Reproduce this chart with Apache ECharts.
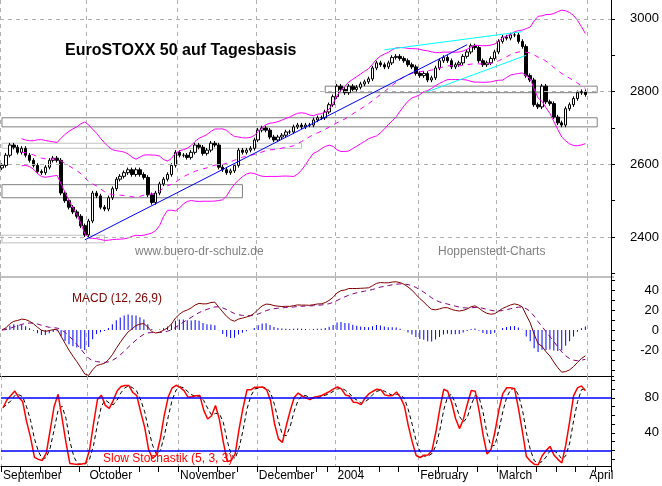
<!DOCTYPE html>
<html>
<head>
<meta charset="utf-8">
<script src="https://cdn.jsdelivr.net/npm/echarts@6/dist/echarts.min.js"></script>
<style>html,body{margin:0;padding:0;background:#fff}#chart{width:662px;height:486px}</style>
</head>
<body>
<div id="chart"></div>
<script>
// daily closes, 1 Sep 2003 .. 31 Mar 2004
var closes = [
    2597, 2625, 2653, 2647, 2633, 2644, 2625, 2611, 2597, 2580, 2577, 2592, 2611, 2617, 2611, 2521, 2500, 2482, 2469, 2457, 2431, 2406,
    2444, 2521, 2513, 2482, 2477, 2508, 2533, 2559, 2567, 2577, 2585, 2572, 2585, 2572, 2564, 2516, 2495, 2521, 2546, 2559, 2572, 2597,
    2633, 2625, 2625, 2619, 2633, 2653, 2647, 2630, 2639, 2658, 2653, 2592, 2585, 2577, 2582, 2597, 2639, 2633, 2639, 2644,
    2667, 2694, 2700, 2694, 2675, 2667, 2675, 2680, 2689, 2689, 2703, 2708, 2703, 2708, 2708, 2722, 2728, 2728, 2744, 2764,
    2786, 2815, 2806, 2797, 2815, 2806, 2812, 2821, 2827, 2835, 2865, 2879, 2874, 2868, 2879, 2894, 2897, 2891, 2885, 2874, 2868,
    2850, 2844, 2850, 2832, 2838, 2865, 2885, 2894, 2885, 2868, 2874, 2879, 2897, 2909, 2926, 2921, 2885, 2874, 2879, 2891,
    2909, 2938, 2950, 2947, 2956, 2956, 2938, 2924, 2844, 2832, 2764, 2758, 2815, 2772, 2767, 2730, 2714, 2708, 2753, 2764, 2781, 2797, 2800, 2792
];
var firstOpen = 2590;
var monthNames = ['2004', 'February', 'March', 'April', '', '', '', '', 'September', 'October', 'November', 'December'];
var priceTicks = [2300, 2400, 2500, 2600, 2700, 2800, 2900, 3000];
var priceLabels = [2400, 2600, 2800, 3000];
var macdTicks = [-40, -30, -20, -10, 0, 10, 20, 30, 40, 50];
var macdLabels = [-20, 0, 20, 40];
var stochTicks = [10, 20, 30, 40, 50, 60, 70, 80, 90, 100];
var stochLabels = [40, 80];
// support zones [startIndex, endIndex, top, bottom, colour]
var zones = [
    [0, 151, 2728, 2703, '#808080'],
    [82, 151, 2815, 2797, '#808080'],
    [0, 76, 2658, 2644, '#c0c0c0'],
    [0, 61, 2544, 2508, '#808080'],
    [0, 26, 2405, 2384, '#c0c0c0']
];
// trend lines [i0, p0, i1, p1, colour]
var trends = [
    [21, 2392, 118, 2929, '#0000ff'],
    [97, 2915, 132, 2965, '#00ffff'],
    [108, 2800, 133, 2900, '#00ffff']
];

// trading days
var holidays = ['2003-12-25', '2003-12-26', '2003-12-31', '2004-01-01'];
var days = [];
var d = new Date(Date.UTC(2003, 8, 1));
while (days.length < 155) {
    var wd = d.getUTCDay();
    var s = d.toISOString().slice(0, 10);
    if (wd > 0 && wd < 6 && holidays.indexOf(s) < 0) days.push(s);
    d.setUTCDate(d.getUTCDate() + 1);
}
function monthStart(i) { return i === 0 || days[i].slice(5, 7) !== days[i - 1].slice(5, 7); }
function monday(i) { return i === 0 || new Date(days[i]).getUTCDay() < new Date(days[i - 1]).getUTCDay(); }

// candles: open = previous close
var ohlc = [], highs = [], lows = [];
for (var i = 0; i < closes.length; i++) {
    var o = i ? closes[i - 1] : firstOpen, c = closes[i];
    var h = Math.max(o, c) + 6, l = Math.min(o, c) - 6;
    highs.push(h); lows.push(l);
    ohlc.push([o, c, l, h]);
}

// bollinger 20/2
var bbMid = [], bbUp = [], bbLo = [];
for (i = 0; i < closes.length; i++) {
    var st = Math.max(0, i - 19), n = i - st + 1, sum = 0, sq = 0;
    for (var j = st; j <= i; j++) sum += closes[j];
    var m = sum / n;
    for (j = st; j <= i; j++) sq += (closes[j] - m) * (closes[j] - m);
    var sd = Math.sqrt(sq / n);
    if (n < 6) { bbMid.push('-'); bbUp.push('-'); bbLo.push('-'); continue; }
    bbMid.push(+m.toFixed(1)); bbUp.push(+(m + 2 * sd).toFixed(1)); bbLo.push(+(m - 2 * sd).toFixed(1));
}

// MACD 12/26/9
function ema(arr, p) {
    var k = 2 / (p + 1), out = [arr[0]];
    for (var q = 1; q < arr.length; q++) out.push(arr[q] * k + out[q - 1] * (1 - k));
    return out;
}
var e12 = ema(closes, 12), e26 = ema(closes, 26);
var macd = e12.map(function (v, q) { return v - e26[q]; });
var signal = ema(macd, 9);
var hist = macd.map(function (v, q) { return +(v - signal[q]).toFixed(1); });
macd = macd.map(function (v) { return +v.toFixed(1); });
signal = signal.map(function (v) { return +v.toFixed(1); });

// slow stochastic 5/3/3
var rawK = [];
for (i = 0; i < closes.length; i++) {
    var a = Math.max(0, i - 4), hh = -1e9, ll = 1e9;
    for (j = a; j <= i; j++) { hh = Math.max(hh, highs[j]); ll = Math.min(ll, lows[j]); }
    rawK.push(hh > ll ? (closes[i] - ll) / (hh - ll) * 100 : 50);
}
function sma(arr, p) {
    return arr.map(function (v, q) {
        var b = Math.max(0, q - p + 1), t = 0;
        for (var r = b; r <= q; r++) t += arr[r];
        return +(t / (q - b + 1)).toFixed(1);
    });
}
var slowK = sma(rawK, 3), slowD = sma(slowK, 3);

var chart = echarts.init(document.getElementById('chart'));
var font = 'Liberation Sans, Arial, sans-serif';

function xAxisFor(idx, bottom) {
    return {
        type: 'category', gridIndex: idx, data: days, boundaryGap: true,
        axisLine: { show: bottom, lineStyle: { color: '#000' } },
        axisTick: { show: bottom, interval: function (i) { return monday(i); }, length: 6, lineStyle: { color: '#000' } },
        axisLabel: {
            show: bottom, interval: function (i) { return monthStart(i); }, align: 'left', margin: 4,
            color: '#000', fontSize: 12, fontFamily: font,
            formatter: function (v) { return monthNames[(+v.slice(5, 7) - 1)]; }
        },
        splitLine: { show: true, interval: function (i) { return monthStart(i); }, lineStyle: { color: '#b0b0b0', type: [4, 4] } }
    };
}
function yAxisFor(idx, min, max, ticks, labels) {
    return {
        type: 'value', gridIndex: idx, position: 'right', min: min, max: max,
        axisLine: { show: true, lineStyle: { color: '#000' } },
        axisTick: { show: true, inside: false, length: 4, customValues: ticks, lineStyle: { color: '#000' } },
        axisLabel: { customValues: labels, color: '#000', fontSize: 13, fontFamily: font, margin: 8, align: 'right',
            formatter: function (v) { return v; }, padding: [0, -40, 0, 0] },
        splitLine: { show: false }
    };
}

var option = {
    animation: false,
    backgroundColor: '#fff',
    grid: [
        { left: 0, right: 48, top: 0, height: 277 },
        { left: 0, right: 48, top: 277, height: 99 },
        { left: 0, right: 48, top: 376, height: 90 }
    ],
    xAxis: [xAxisFor(0, false), xAxisFor(1, false), xAxisFor(2, true)],
    yAxis: [
        yAxisFor(0, 2290, 3052, priceTicks, priceLabels),
        yAxisFor(1, -46, 53, macdTicks, macdLabels),
        yAxisFor(2, 2, 105, stochTicks, stochLabels)
    ],
    graphic: [
        { type: 'line', shape: { x1: 0, y1: 277, x2: 614, y2: 277 }, style: { stroke: '#808080', lineWidth: 1 } },
        { type: 'line', shape: { x1: 0, y1: 376.5, x2: 614, y2: 376.5 }, style: { stroke: '#000', lineWidth: 1 } },
        { type: 'text', left: 65, top: 43, style: { text: 'EuroSTOXX 50 auf Tagesbasis', font: 'bold 16px ' + font, fill: '#000' } },
        { type: 'text', left: 135, top: 246, style: { text: 'www.buero-dr-schulz.de', font: '12px ' + font, fill: '#808080' } },
        { type: 'text', left: 438, top: 246, style: { text: 'Hoppenstedt-Charts', font: '12px ' + font, fill: '#808080' } },
        { type: 'text', left: 72, top: 293, style: { text: 'MACD (12, 26,9)', font: '12px ' + font, fill: '#800000' } },
        { type: 'text', left: 103, top: 453, style: { text: 'Slow Stochastik (5, 3, 3)', font: '12px ' + font, fill: '#ff0000' } }
    ],
    series: [
        {
            type: 'line', xAxisIndex: 0, yAxisIndex: 0, data: [], silent: true,
            markLine: {
                symbol: 'none', silent: true, label: { show: false },
                lineStyle: { color: '#b0b0b0', type: [4, 4], width: 1 },
                data: priceLabels.map(function (v) { return { yAxis: v }; })
            },
            markArea: {
                silent: true,
                data: zones.map(function (z) {
                    return [{ coord: [z[0], z[2]], itemStyle: { color: 'rgba(0,0,0,0)', borderColor: z[4], borderWidth: 1 } },
                            { coord: [z[1], z[3]] }];
                })
            }
        },
        { type: 'line', xAxisIndex: 0, yAxisIndex: 0, data: bbUp, symbol: 'none', lineStyle: { color: '#ff00ff', width: 1 } },
        { type: 'line', xAxisIndex: 0, yAxisIndex: 0, data: bbLo, symbol: 'none', lineStyle: { color: '#ff00ff', width: 1 } },
        { type: 'line', xAxisIndex: 0, yAxisIndex: 0, data: bbMid, symbol: 'none', lineStyle: { color: '#ff00ff', width: 1, type: [5, 5] } },
        {
            type: 'candlestick', xAxisIndex: 0, yAxisIndex: 0, data: ohlc, barWidth: 3,
            itemStyle: { color: '#fff', color0: '#000', borderColor: '#000', borderColor0: '#000', borderWidth: 1 },
            markLine: {
                symbol: 'none', silent: true, label: { show: false },
                data: trends.map(function (t) {
                    return [{ coord: [t[0], t[1]], lineStyle: { color: t[4], width: 1, type: 'solid' } }, { coord: [t[2], t[3]] }];
                })
            }
        },
        { type: 'bar', xAxisIndex: 1, yAxisIndex: 1, data: hist, barWidth: 1, itemStyle: { color: '#0000ff' } },
        { type: 'line', xAxisIndex: 1, yAxisIndex: 1, data: signal, symbol: 'none', lineStyle: { color: '#800080', width: 1, type: [5, 4] } },
        { type: 'line', xAxisIndex: 1, yAxisIndex: 1, data: macd, symbol: 'none', lineStyle: { color: '#800000', width: 1 } },
        {
            type: 'line', xAxisIndex: 2, yAxisIndex: 2, data: slowD, symbol: 'none', lineStyle: { color: '#000', width: 1, type: [4, 3] },
            markLine: {
                symbol: 'none', silent: true, label: { show: false },
                lineStyle: { color: '#0000ff', width: 1.5, type: 'solid' },
                data: [{ yAxis: 20 }, { yAxis: 80 }]
            }
        },
        { type: 'line', xAxisIndex: 2, yAxisIndex: 2, data: slowK, symbol: 'none', lineStyle: { color: '#ff0000', width: 1.5 } }
    ]
};
chart.setOption(option);
</script>
</body>
</html>
